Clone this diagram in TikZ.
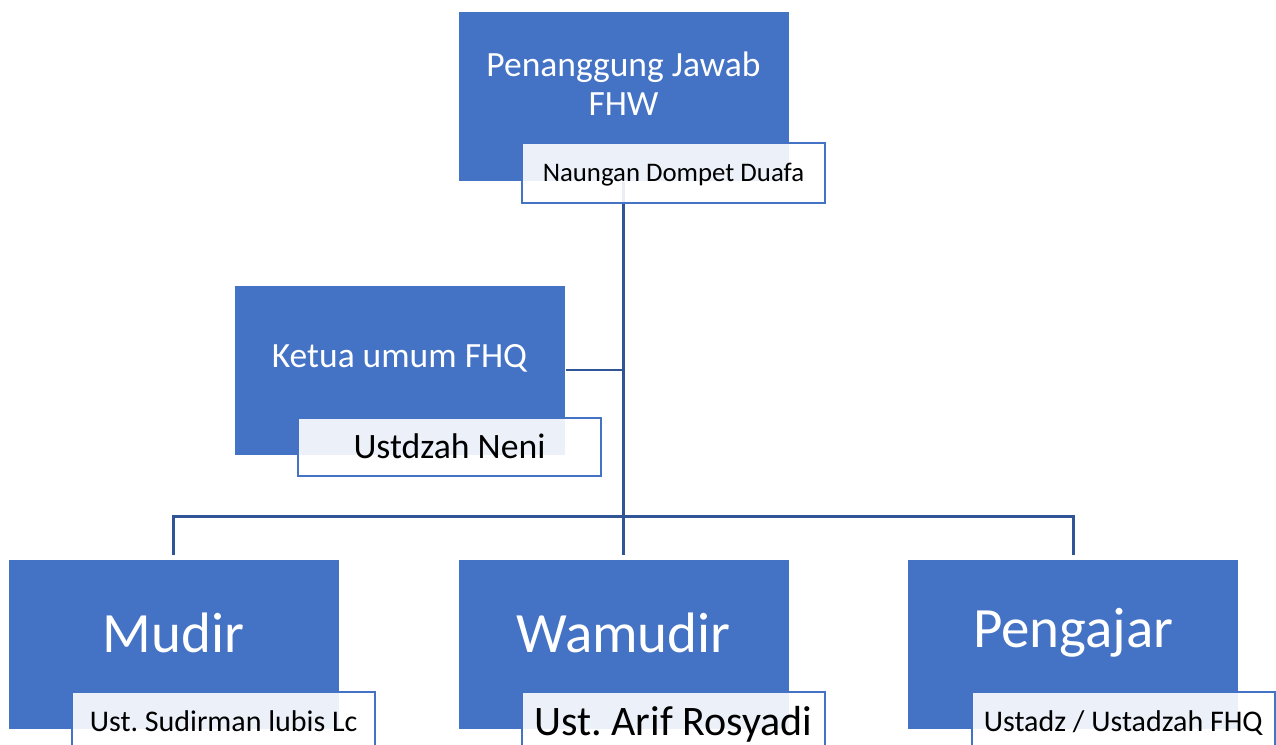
\documentclass[tikz,border=0pt]{standalone}
\usepackage{fontspec}
\setmainfont{Carlito}
\usetikzlibrary{positioning, backgrounds}
\definecolor{boxblue}{HTML}{4472C4}
\definecolor{lineblue}{HTML}{2F5597}
\tikzstyle{mainbox} = [rectangle, minimum width=331pt, minimum height=170pt, inner sep=0pt, draw=white, line width=0.8pt, fill=boxblue]
\tikzstyle{mainlbl} = [text=white, align=center, inner sep=0pt]
\tikzstyle{subbox} = [rectangle, minimum width=303pt, minimum height=60pt, inner sep=0pt, text depth=0pt, draw=boxblue, line width=2pt, fill=white, fill opacity=0.9, text opacity=1, text=black]
\tikzstyle{conn} = [draw=lineblue, line width=2.6pt]
\tikzset{subsize/.style={font=\fontsize{#1}{#1}\selectfont, text height=0.63*#1pt}}

\begin{document}
\frenchspacing
\begin{tikzpicture}[x=1pt, y=-1pt]
    \useasboundingbox (0,0) rectangle (1276,744);

    \node (pj) [mainbox] at (623.5,96) {};
    \node (pjtext) [mainlbl, font=\fontsize{35.5}{39}\selectfont] at ([yshift=12pt]pj.center) {Penanggung Jawab\\FHW};
    \node (pjsub) [subbox, subsize=26.8] at ([xshift=50pt, yshift=-77pt]pj.center) {Naungan Dompet Duafa};

    \node (ketua) [mainbox] at (399.5,370) {};
    \node (ketuatext) [mainlbl, font=\fontsize{35.5}{40}\selectfont] at ([yshift=12pt]ketua.center) {Ketua umum FHQ};
    \node (ketuasub) [subbox, minimum height=58pt, subsize=35.7] at ([xshift=50pt, yshift=-77pt]ketua.center) {Ustdzah Neni};

    \node (wamudir) [mainbox, below=378pt of pj] {};
    \node (mudir) [mainbox, left=118pt of wamudir] {};
    \node (pengajar) [mainbox, right=118pt of wamudir] {};

    \node (mudirtext) [mainlbl, font=\fontsize{57}{66}\selectfont] at ([yshift=12pt]mudir.center) {Mudir};
    \node (wamudirtext) [mainlbl, font=\fontsize{57}{66}\selectfont] at ([yshift=12pt]wamudir.center) {Wamudir};
    \node (pengajartext) [mainlbl, font=\fontsize{57}{66}\selectfont] at ([yshift=12pt]pengajar.center) {Pengajar};

    \node (mudirsub) [subbox, subsize=30] at ([xshift=50pt, yshift=-77pt]mudir.center) {Ust. Sudirman lubis Lc};
    \node (wamudirsub) [subbox, subsize=42] at ([xshift=50pt, yshift=-77pt]wamudir.center) {Ust. Arif Rosyadi};
    \node (pengajarsub) [subbox, subsize=30] at ([xshift=50pt, yshift=-77pt]pengajar.center) {Ustadz / Ustadzah FHQ};

    % connectors behind the boxes
    \begin{scope}[on background layer]
        \coordinate (bus) at ([yshift=43pt]wamudir.north);
        \draw [conn] (pj.south) -- ([yshift=4pt]wamudir.north);
        \draw [conn] (ketua.east) -- (ketua.east -| pj.south);
        \draw [conn] ([yshift=4pt]mudir.north) |- (bus) -| ([yshift=4pt]pengajar.north);
    \end{scope}

\end{tikzpicture}
\end{document}
